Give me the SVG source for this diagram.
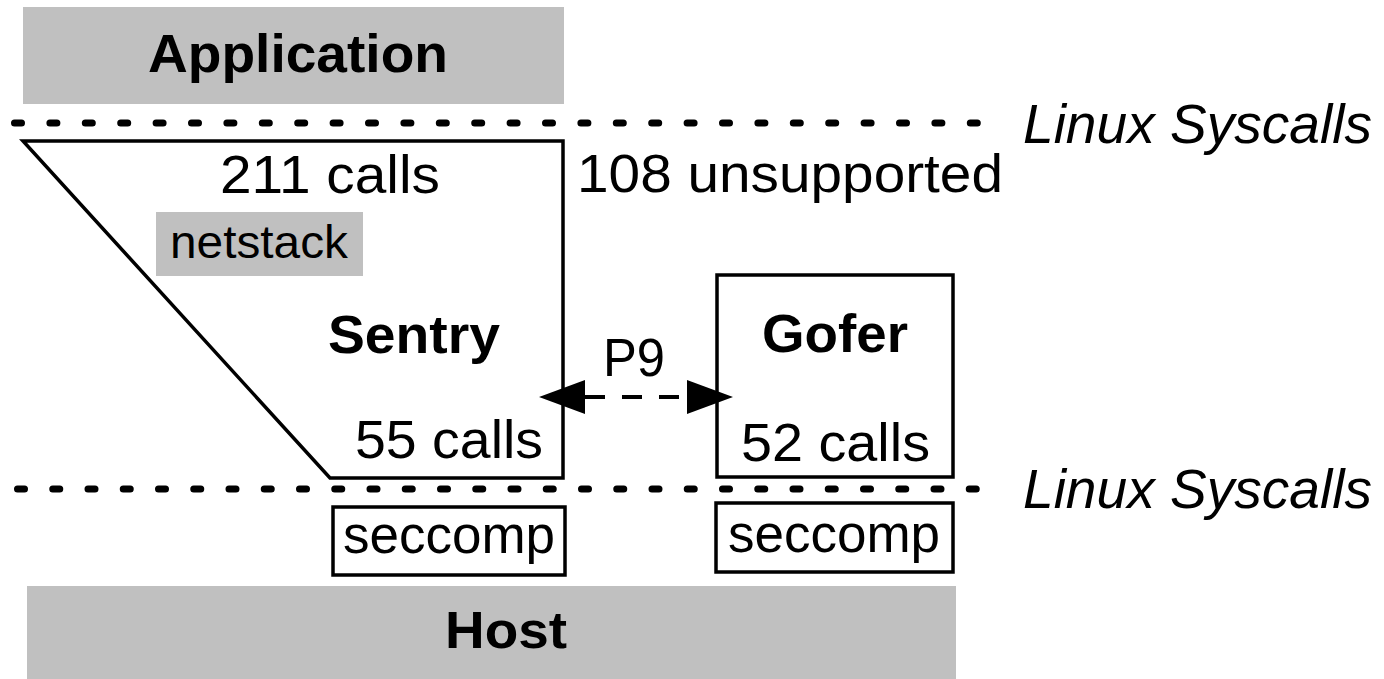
<svg xmlns="http://www.w3.org/2000/svg" width="1384" height="679" viewBox="0 0 1384 679">
<defs>
<style>
.t{font-family:"Liberation Sans",Arial,sans-serif;fill:#000}
.b{font-weight:bold}
.r{font-size:54px}
.it{font-style:italic;font-size:55px}
.gray{fill:#c0c0c0;stroke:none}
.box{fill:#fff;stroke:#000;stroke-width:3.5}
.dots{stroke:#000;stroke-width:7;stroke-linecap:round;fill:none}
</style>
<marker id="ah" markerUnits="userSpaceOnUse" markerWidth="46" markerHeight="34" refX="0" refY="17" orient="auto-start-reverse">
<path d="M0,0 L46,17 L0,34 Z" fill="#000"/>
</marker>
</defs>
<rect width="1384" height="679" fill="#fff"/>
<g id="application">
<rect class="gray" x="23" y="7" width="541" height="97"/>
<text class="t b r" x="148" y="72" textLength="300" lengthAdjust="spacingAndGlyphs">Application</text>
</g>
<g id="syscall-lines">
<line class="dots" x1="14.5" y1="123" x2="985" y2="123" stroke-dasharray="7 28.4"/>
<line class="dots" x1="17.5" y1="489" x2="985" y2="489" stroke-dasharray="7 28.25"/>
<text class="t it" x="1023" y="143" textLength="349" lengthAdjust="spacingAndGlyphs">Linux Syscalls</text>
<text class="t it" x="1023" y="508" textLength="349" lengthAdjust="spacingAndGlyphs">Linux Syscalls</text>
</g>
<g id="sentry">
<polygon class="box" points="23,141 563,141 563,478 330,478"/>
<text class="t r" x="220" y="193" textLength="220" lengthAdjust="spacingAndGlyphs">211 calls</text>
<text class="t b r" x="328" y="353" textLength="172" lengthAdjust="spacingAndGlyphs">Sentry</text>
<text class="t r" x="355" y="458" textLength="188" lengthAdjust="spacingAndGlyphs">55 calls</text>
</g>
<g id="netstack">
<rect class="gray" x="156" y="212" width="207" height="64"/>
<text class="t" x="170" y="258" font-size="47" textLength="178" lengthAdjust="spacingAndGlyphs">netstack</text>
</g>
<g id="unsupported">
<text class="t r" x="577" y="192" textLength="426" lengthAdjust="spacingAndGlyphs">108 unsupported</text>
</g>
<g id="gofer">
<rect class="box" x="717" y="275" width="236" height="202"/>
<text class="t b r" x="762" y="352" textLength="146" lengthAdjust="spacingAndGlyphs">Gofer</text>
<text class="t r" x="741" y="461" textLength="189" lengthAdjust="spacingAndGlyphs">52 calls</text>
</g>
<g id="connectors">
<line x1="585" y1="397" x2="687" y2="397" stroke="#000" stroke-width="4" stroke-dasharray="20 17" marker-start="url(#ah)" marker-end="url(#ah)"/>
<text class="t r" x="603" y="376" textLength="62" lengthAdjust="spacingAndGlyphs">P9</text>
</g>
<g id="seccomp-sentry">
<rect class="box" x="333" y="507" width="232" height="68"/>
<text class="t" x="343" y="553" font-size="53" textLength="212" lengthAdjust="spacingAndGlyphs">seccomp</text>
</g>
<g id="seccomp-gofer">
<rect class="box" x="716" y="503" width="237" height="69"/>
<text class="t" x="728" y="552" font-size="53" textLength="212" lengthAdjust="spacingAndGlyphs">seccomp</text>
</g>
<g id="host">
<rect class="gray" x="27" y="586" width="929" height="93"/>
<text class="t b" x="445" y="648" font-size="52" textLength="122" lengthAdjust="spacingAndGlyphs">Host</text>
</g>
</svg>
